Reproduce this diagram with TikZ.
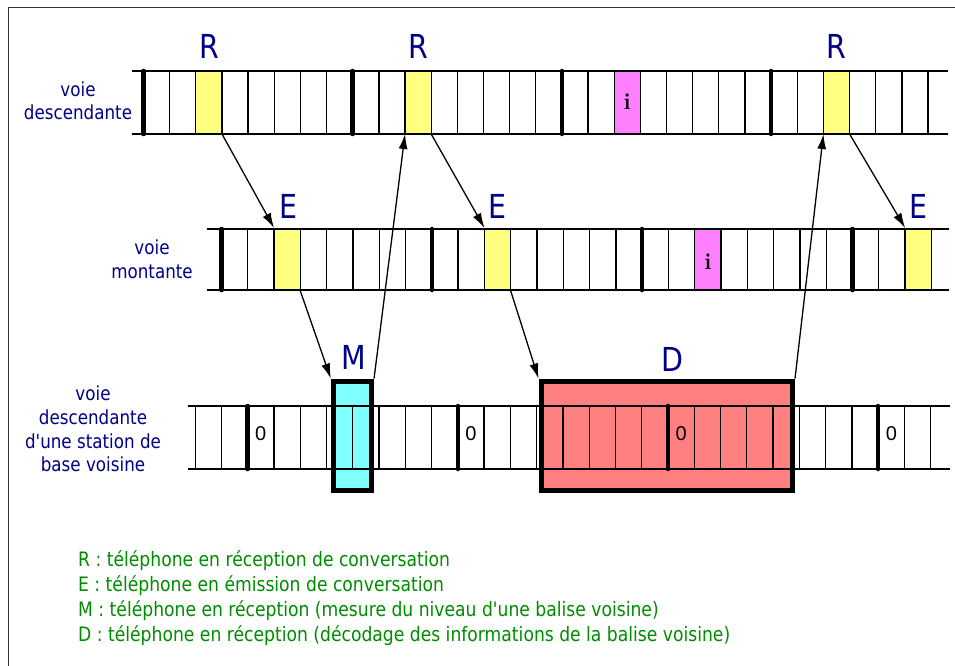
\documentclass[tikz,border=0pt]{standalone}
\usepackage{fontspec}
\usetikzlibrary{arrows.meta}
\newfontfamily\tah[FakeStretch=0.863]{DejaVu Sans}
\newfontfamily\digitfont{Liberation Sans}
\definecolor{navy}{HTML}{000088}
\definecolor{legendgreen}{HTML}{008C00}
\definecolor{slotyellow}{HTML}{FFFF80}
\definecolor{slotpink}{HTML}{FF80FF}
\definecolor{slotcyan}{HTML}{80FFFF}
\definecolor{slotsalmon}{HTML}{FF8080}
\begin{document}
\begin{tikzpicture}[x=1pt,y=-1pt,
  cellline/.style={line width=1.3pt},
  rowline/.style={line width=1.5pt},
  framebar/.style={line width=4.5pt,line cap=round},
  slotfill/.style={draw=none,inner sep=0pt,outer sep=0pt,minimum height=63pt},
  winbox/.style={draw,line width=5pt,inner sep=0pt,minimum height=109pt},
  link/.style={line width=1.3pt,-{Latex[length=15pt,width=9pt]}},
  bigletter/.style={text=navy,font=\tah\fontsize{33}{33}\selectfont,anchor=base,inner sep=0pt},
  rowlabel/.style={text=navy,font=\tah\fontsize{19.4}{23.7}\selectfont,align=center,inner sep=0pt},
  infoletter/.style={font=\fontsize{23}{23}\selectfont\bfseries,inner sep=0pt},
  zeroletter/.style={font=\digitfont\fontsize{20}{20}\selectfont,inner sep=0pt},
  legendtext/.style={text=legendgreen,font=\tah\fontsize{19.9}{24.8}\selectfont,align=left,inner sep=0pt}
]
\useasboundingbox (0,0) rectangle (955,666);

% outer frame (top and left edges)
\draw[line width=1.5pt,black!80] (955,7.3) -- (8.3,7.3) -- (8.3,666);

% ---------- downlink (voie descendante) ----------
\node[slotfill,fill=slotyellow,minimum width=26.15pt] (r1) at (208.9,102.5) {};
\node[slotfill,fill=slotyellow,minimum width=26.15pt] (r2) at (418.1,102.5) {};
\node[slotfill,fill=slotpink,minimum width=26.15pt]   (i1) at (627.3,102.5) {};
\node[slotfill,fill=slotyellow,minimum width=26.15pt] (r3) at (836.5,102.5) {};
\draw[rowline] (132,71) -- (948,71) (132,134) -- (948,134);
\foreach \k in {1,...,30} {\draw[cellline] ({143.5+\k*26.15},71) -- ++(0,63);}
\foreach \k in {0,8,16,24} {\draw[framebar] ({143.5+\k*26.15},71) -- ++(0,63);}

% ---------- uplink (voie montante) ----------
\node[slotfill,fill=slotyellow,minimum width=26.29pt] (e1) at (287.2,259.5) {};
\node[slotfill,fill=slotyellow,minimum width=26.29pt] (e2) at (497.6,259.5) {};
\node[slotfill,fill=slotpink,minimum width=26.29pt]   (i2) at (707.9,259.5) {};
\node[slotfill,fill=slotyellow,minimum width=26.29pt] (e3) at (918.3,259.5) {};
\draw[rowline] (206.7,229) -- (949,229) (206.7,290) -- (949,290);
\foreach \k in {1,...,27} {\draw[cellline] ({221.5+\k*26.29},229) -- ++(0,61);}
\foreach \k in {0,8,16,24} {\draw[framebar] ({221.5+\k*26.29},229) -- ++(0,61);}

% ---------- neighbour base station downlink ----------
\node[winbox,fill=slotcyan,minimum width=38.3pt] (mbox) at (352.4,435.5) {};
\node[winbox,fill=slotsalmon,minimum width=251.5pt] (dbox) at (666.75,435.5) {};
\draw[rowline] (188,406) -- (950,406) (188,469) -- (950,469);
\foreach \k in {-2,...,26} {\draw[cellline] ({247.7+\k*26.27},406) -- ++(0,63);}
\foreach \k in {0,8,16,24} {\draw[framebar] ({247.7+\k*26.27},406) -- ++(0,63);}
% window borders redrawn above the slot grid
\node[winbox,minimum width=38.3pt] (mframe) at (mbox.center) {};
\node[winbox,minimum width=251.5pt] (dframe) at (dbox.center) {};

% slot contents
\node[infoletter] (ti1) at (627.3,102) {i};
\node[infoletter] (ti2) at (707.9,262) {i};
\node[zeroletter] (z1) at (260.8,434) {0};
\node[zeroletter] (z2) at (471.0,434) {0};
\node[zeroletter] (z3) at (681.1,434) {0};
\node[zeroletter] (z4) at (891.3,434) {0};

% ---------- slot letters ----------
\node[bigletter] (lr1) at (208.9,59) {R};
\node[bigletter] (lr2) at (418.1,59) {R};
\node[bigletter] (lr3) at (836.5,59) {R};
\node[bigletter] (le1) at (288.5,218.5) {E};
\node[bigletter] (le2) at (497.6,218.5) {E};
\node[bigletter] (le3) at (918.3,218.5) {E};
\node[bigletter] (lm) at (354,369.5) {M};
\node[bigletter] (ld) at (672.7,371.5) {D};

% ---------- connectors ----------
\draw[link] (r1.south east) -- (e1.north west);
\draw[link] (e1.south east) -- (mframe.north west);
\draw[link] (mframe.north east) -- (r2.south west);
\draw[link] (r2.south east) -- (e2.north west);
\draw[link] (e2.south east) -- (dframe.north west);
\draw[link] (dframe.north east) -- (r3.south west);
\draw[link] (r3.south east) -- (e3.north west);

% ---------- row labels (node base = last line) ----------
\node[rowlabel,anchor=base] (lab1) at (78,120) {voie\hspace{11pt}\\descendante};
\node[rowlabel,anchor=base] (lab2) at (152,278.3) {voie\hspace{10pt}\\montante};
\node[rowlabel,anchor=base] (lab3) at (93,471.7) {voie\hspace{21pt}\\descendante\\d'une station de\\base voisine};

% ---------- legend ----------
\node[legendtext,anchor=base west] (legend) at (78,641) {R : téléphone en réception de conversation\\
E : téléphone en émission de conversation\\
M : téléphone en réception (mesure du niveau d'une balise voisine)\\
D : téléphone en réception (décodage des informations de la balise voisine)};
\end{tikzpicture}
\end{document}
